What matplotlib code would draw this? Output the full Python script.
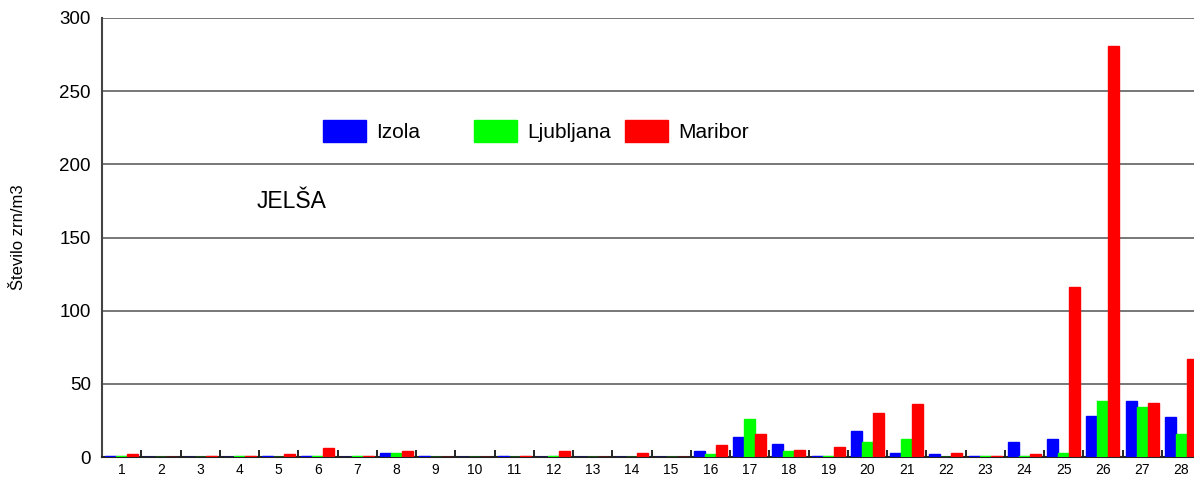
import numpy as np
import matplotlib
matplotlib.use('Agg')
import matplotlib.pyplot as plt
from matplotlib.patches import Patch
from matplotlib.legend import Legend

plt.rcParams['font.family'] = ['Liberation Sans', 'DejaVu Sans']

days = list(range(1, 29))
izola = [1, 0, 0, 0, 1, 1, 0, 3, 1, 0, 1, 0, 0, 0, 0, 4, 14, 9, 1, 18, 3, 2, 1, 10, 12, 28, 38, 27]
ljubljana = [1, 0, 0, 1, 0, 1, 1, 3, 0, 0, 0, 1, 0, 0, 0, 2, 26, 4, 1, 10, 12, 0, 1, 1, 3, 38, 34, 16]
maribor = [2, 0, 1, 1, 2, 6, 1, 4, 0, 0, 1, 4, 0, 3, 0, 8, 16, 5, 7, 30, 36, 3, 1, 2, 116, 281, 37, 67]
series = ['Izola', 'Ljubljana', 'Maribor']
colors = ['#0000FF', '#00FF00', '#FF0000']

fig = plt.figure(figsize=(11.94, 4.79), dpi=100)
ax = fig.add_axes([102 / 1194, 22 / 479, 1099 / 1194, 439 / 479])

x = np.arange(len(days))
w = 0.28
for i, vals in enumerate([izola, ljubljana, maribor]):
    ax.bar(x + (i - 1) * w, vals, width=w, color=colors[i], edgecolor=colors[i],
           linewidth=1.0, zorder=3)

ax.set_xlim(-0.5, len(days) - 0.5)
ax.set_ylim(0, 300)
ax.set_yticks(range(0, 301, 50))
ax.yaxis.grid(True, color='#606060', linewidth=1.2, zorder=0)
ax.set_xticks(x)
ax.set_xticklabels(days)
ax.set_xticks(x[:-1] + 0.5, minor=True)
ax.tick_params(axis='x', which='major', length=0, labelsize=10, pad=4)
ax.tick_params(axis='x', which='minor', direction='in', length=5, width=1.2, color='black')
ax.tick_params(axis='y', length=0, labelsize=13.5, pad=8)

for s in ['top', 'right']:
    ax.spines[s].set_visible(False)
ax.spines['left'].set_color('#444444')
ax.spines['left'].set_linewidth(1.5)
ax.spines['bottom'].set_color('#222222')
ax.spines['bottom'].set_linewidth(1.5)

ax.set_ylabel('Število zrn/m3', fontsize=12, labelpad=24)

# legend entries at fixed spacing like the original
for i, name in enumerate(series):
    lx = (323 + i * 151 - 102) / 1099
    leg = Legend(ax, [Patch(color=colors[i])], [name], loc='center left',
                 bbox_to_anchor=(lx, (457 - 131) / 439),
                 frameon=False, fontsize=15, handlelength=2.07, handleheight=1.3,
                 handletextpad=0.5, borderpad=0, borderaxespad=0)
    ax.add_artist(leg)

ax.text((257 - 102) / 1099, (457 - 208) / 439, 'JELŠA', transform=ax.transAxes,
        fontsize=16.5, va='baseline', ha='left')

fig.savefig('out.png', dpi=100)
